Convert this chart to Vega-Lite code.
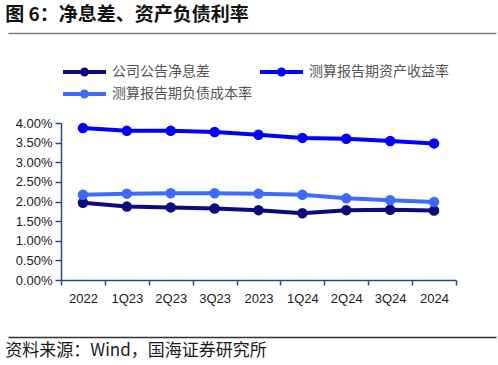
{
  "$schema": "https://vega.github.io/schema/vega-lite/v6.json",
  "padding": {"left": 5, "right": 5, "top": 5, "bottom": 1},
  "autosize": {"type": "pad"},
  "background": "white",
  "spacing": 29,
  "resolve": {"scale": {"color": "independent"}, "legend": {"color": "independent"}},
  "config": {
    "view": {"stroke": null},
    "font": "Liberation Sans"
  },
  "vconcat": [
    {
      "width": 488,
      "height": 1,
      "title": {
        "text": "图 6：净息差、资产负债利率",
        "anchor": "start",
        "font": "Noto Sans CJK SC",
        "fontSize": 19,
        "fontWeight": "bold",
        "color": "#111111",
        "offset": 5
      },
      "data": {"values": [{"v": 0}]},
      "mark": {"type": "point", "opacity": 0},
      "encoding": {
        "x": {
          "field": "v",
          "type": "quantitative",
          "scale": {"domain": [0, 1]},
          "axis": {"domain": true, "domainColor": "#7f7f7f", "domainWidth": 1.5, "ticks": false, "labels": false, "grid": false, "title": null}
        }
      }
    },
    {
      "spacing": 3,
      "resolve": {"scale": {"color": "independent"}, "legend": {"color": "independent"}},
      "hconcat": [
        {
          "width": 1,
          "height": 157,
          "data": {"values": [{"v": 0}]},
          "mark": {"type": "point", "opacity": 0},
          "encoding": {}
        },
        {
          "width": 395,
          "height": 157,
          "data": {
            "values": [
              {"q": "2022", "s": "公司公告净息差", "v": 0.0197},
              {"q": "1Q23", "s": "公司公告净息差", "v": 0.0187},
              {"q": "2Q23", "s": "公司公告净息差", "v": 0.0185},
              {"q": "3Q23", "s": "公司公告净息差", "v": 0.0182},
              {"q": "2023", "s": "公司公告净息差", "v": 0.0178},
              {"q": "1Q24", "s": "公司公告净息差", "v": 0.0170},
              {"q": "2Q24", "s": "公司公告净息差", "v": 0.0178},
              {"q": "3Q24", "s": "公司公告净息差", "v": 0.0179},
              {"q": "2024", "s": "公司公告净息差", "v": 0.0177},
              {"q": "2022", "s": "测算报告期资产收益率", "v": 0.0387},
              {"q": "1Q23", "s": "测算报告期资产收益率", "v": 0.0380},
              {"q": "2Q23", "s": "测算报告期资产收益率", "v": 0.0380},
              {"q": "3Q23", "s": "测算报告期资产收益率", "v": 0.0377},
              {"q": "2023", "s": "测算报告期资产收益率", "v": 0.0370},
              {"q": "1Q24", "s": "测算报告期资产收益率", "v": 0.0362},
              {"q": "2Q24", "s": "测算报告期资产收益率", "v": 0.0360},
              {"q": "3Q24", "s": "测算报告期资产收益率", "v": 0.0354},
              {"q": "2024", "s": "测算报告期资产收益率", "v": 0.0348},
              {"q": "2022", "s": "测算报告期负债成本率", "v": 0.0217},
              {"q": "1Q23", "s": "测算报告期负债成本率", "v": 0.0220},
              {"q": "2Q23", "s": "测算报告期负债成本率", "v": 0.0221},
              {"q": "3Q23", "s": "测算报告期负债成本率", "v": 0.0221},
              {"q": "2023", "s": "测算报告期负债成本率", "v": 0.0220},
              {"q": "1Q24", "s": "测算报告期负债成本率", "v": 0.0217},
              {"q": "2Q24", "s": "测算报告期负债成本率", "v": 0.0208},
              {"q": "3Q24", "s": "测算报告期负债成本率", "v": 0.0203},
              {"q": "2024", "s": "测算报告期负债成本率", "v": 0.0199}
            ]
          },
          "mark": {"type": "line", "strokeWidth": 4, "point": {"filled": true, "size": 110, "opacity": 1}},
          "encoding": {
            "x": {
              "field": "q",
              "type": "ordinal",
              "sort": ["2022", "1Q23", "2Q23", "3Q23", "2023", "1Q24", "2Q24", "3Q24", "2024"],
              "scale": {"type": "band", "paddingInner": 0, "paddingOuter": 0},
              "axis": {
                "title": null,
                "labelAngle": 0,
                "labelFontSize": 13,
                "labelColor": "#1a1a1a",
                "labelPadding": 7,
                "domainColor": "#2b4785",
                "domainWidth": 1.5,
                "tickColor": "#2b4785",
                "tickWidth": 1.5,
                "tickSize": 5,
                "tickBand": "extent",
                "grid": false
              }
            },
            "y": {
              "field": "v",
              "type": "quantitative",
              "scale": {"domain": [0, 0.04], "nice": false},
              "axis": {
                "title": null,
                "format": ".2%",
                "values": [0, 0.005, 0.01, 0.015, 0.02, 0.025, 0.03, 0.035, 0.04],
                "labelFontSize": 13,
                "labelColor": "#1a1a1a",
                "labelPadding": 3,
                "domainColor": "#2b4785",
                "domainWidth": 1.5,
                "tickColor": "#2b4785",
                "tickWidth": 1.5,
                "tickSize": 6,
                "grid": false
              }
            },
            "color": {
              "field": "s",
              "type": "nominal",
              "sort": ["公司公告净息差", "测算报告期资产收益率", "测算报告期负债成本率"],
              "scale": {
                "domain": ["公司公告净息差", "测算报告期资产收益率", "测算报告期负债成本率"],
                "range": ["#0b0b7e", "#0000ff", "#3b6cff"]
              },
              "legend": {
                "title": null,
                "orient": "top",
                "offset": 19,
                "direction": "horizontal",
                "columns": 2,
                "columnPadding": 6,
                "rowPadding": 8,
                "labelFont": "Noto Sans CJK SC",
                "labelFontSize": 14,
                "labelColor": "#555555",
                "labelOffset": 37,
                "symbolType": "M-1,-0.4H7.6V0.4H-1Z M2.4,0A0.9,0.9 0 1,1 4.2,0A0.9,0.9 0 1,1 2.4,0Z",
                "symbolSize": 100,
                "symbolStrokeWidth": 0,
                "encode": {
                  "symbols": {
                    "update": {
                      "fill": {"field": "value", "scale": "color"},
                      "fillOpacity": {"value": 1},
                      "strokeWidth": {"value": 0}
                    }
                  }
                }
              }
            }
          }
        }
      ]
    },
    {
      "width": 488,
      "height": 1,
      "title": {
        "text": "资料来源：Wind，国海证券研究所",
        "orient": "bottom",
        "anchor": "start",
        "font": "Noto Sans CJK SC",
        "fontSize": 17,
        "fontWeight": "normal",
        "color": "#1a1a1a",
        "offset": 3
      },
      "data": {"values": [{"v": 0}]},
      "mark": {"type": "point", "opacity": 0},
      "encoding": {
        "x": {
          "field": "v",
          "type": "quantitative",
          "scale": {"domain": [0, 1]},
          "axis": {"orient": "top", "domain": true, "domainColor": "#333333", "domainWidth": 1.5, "ticks": false, "labels": false, "grid": false, "title": null}
        }
      }
    }
  ]
}
